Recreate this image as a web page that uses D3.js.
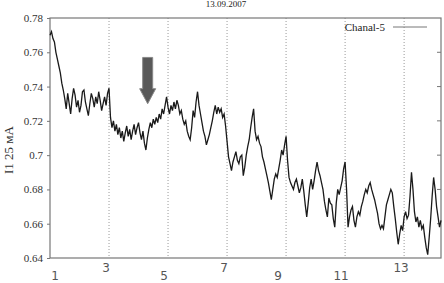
<!DOCTYPE html>
<html lang="ru">
<head>
<meta charset="UTF-8">
<script src="https://d3js.org/d3.v7.min.js"></script>
<style>
  body { margin: 0; background: #fff; }
  svg { font-family: "Liberation Serif", "DejaVu Serif", serif; }
</style>
</head>
<body>
<div id="chart"></div>
<script>
// Chanal-5 current, sampled every 0.05 starting at t = 1
const tStart = 1, tStep = 0.05;
const current = [
  0.770, 0.772, 0.768, 0.766, 0.760, 0.756, 0.752, 0.748, 0.742, 0.738, 0.733, 0.727,
  0.736, 0.730, 0.724, 0.733, 0.739, 0.735, 0.728, 0.732, 0.725, 0.729,
  0.737, 0.738, 0.731, 0.727, 0.723, 0.730, 0.736, 0.733, 0.728, 0.734,
  0.730, 0.737, 0.732, 0.726, 0.730, 0.734, 0.729, 0.736, 0.739,
  0.722, 0.716, 0.720, 0.714, 0.718, 0.712, 0.716, 0.710, 0.714, 0.708,
  0.713, 0.717, 0.711, 0.715, 0.709, 0.714, 0.718, 0.712, 0.716, 0.719,
  0.713, 0.709, 0.714, 0.707, 0.703, 0.710, 0.715, 0.719, 0.716, 0.721, 0.718,
  0.722, 0.719, 0.724, 0.721, 0.727, 0.724, 0.729, 0.734, 0.728, 0.724,
  0.729, 0.726, 0.731, 0.727, 0.732, 0.729, 0.724, 0.726, 0.721, 0.718,
  0.720, 0.714, 0.711, 0.709, 0.716, 0.726, 0.722, 0.731, 0.737, 0.729,
  0.724, 0.719, 0.714, 0.711, 0.706, 0.709, 0.712, 0.716, 0.720, 0.725,
  0.729, 0.724, 0.728, 0.725, 0.727, 0.722, 0.724, 0.717, 0.708, 0.699,
  0.695, 0.691, 0.696, 0.699, 0.702, 0.697, 0.695, 0.699, 0.700, 0.688,
  0.693, 0.700, 0.705, 0.709, 0.716, 0.722, 0.727, 0.714, 0.709, 0.711,
  0.707, 0.705, 0.699, 0.696, 0.692, 0.688, 0.684, 0.679, 0.674, 0.680,
  0.686, 0.689, 0.687, 0.692, 0.697, 0.703, 0.700, 0.706, 0.711,
  0.697, 0.687, 0.684, 0.682, 0.680, 0.684, 0.686, 0.682, 0.678, 0.681,
  0.686, 0.679, 0.671, 0.664, 0.672, 0.681, 0.686, 0.680, 0.685, 0.691,
  0.696, 0.691, 0.688, 0.684, 0.680, 0.673, 0.668, 0.664, 0.675, 0.672,
  0.671, 0.663, 0.658, 0.672, 0.680, 0.677, 0.681, 0.685, 0.692, 0.696,
  0.680, 0.658, 0.664, 0.668, 0.670, 0.662, 0.658, 0.664, 0.667, 0.665,
  0.670, 0.673, 0.677, 0.680, 0.678, 0.682, 0.684, 0.680, 0.677, 0.674,
  0.670, 0.666, 0.660, 0.657, 0.659, 0.657, 0.664, 0.671, 0.674, 0.677,
  0.680, 0.678, 0.670, 0.663, 0.655, 0.648, 0.654, 0.659, 0.656, 0.664,
  0.667, 0.663, 0.665, 0.676, 0.690, 0.680, 0.667, 0.661, 0.664, 0.658,
  0.662, 0.657, 0.659, 0.652, 0.646, 0.642, 0.652, 0.663, 0.676, 0.687,
  0.680, 0.670, 0.664, 0.658, 0.662
];
const xTicks = [1, 3, 5, 7, 9, 11, 13];
const yTicks = [0.64, 0.66, 0.68, 0.70, 0.72, 0.74, 0.76, 0.78];
const gridX = [3, 5, 7, 9, 11, 13];
const title = "13.09.2007";
const seriesName = "Chanal-5";
const yLabel = "I1 25 мА";
// arrow annotation: time, top value, tip value
const arrowAt = { t: 4.31, top: 0.757, tip: 0.730 };

const W = 444, H = 283;
const margin = { top: 18, right: 3, bottom: 25, left: 50 };
const width = W - margin.left - margin.right;
const height = H - margin.top - margin.bottom;

const svg = d3.select("#chart").append("svg")
  .attr("width", W).attr("height", H);
const g = svg.append("g")
  .attr("transform", `translate(${margin.left},${margin.top})`);

const x = d3.scaleLinear().domain([1, 14.25]).range([0, width]);
const y = d3.scaleLinear().domain([0.64, 0.78]).range([height, 0]);

// dotted grid
g.selectAll(".grid").data(gridX).enter().append("line")
  .attr("x1", d => x(d)).attr("x2", d => x(d))
  .attr("y1", 0).attr("y2", height)
  .attr("stroke", "#999").attr("stroke-width", 1)
  .attr("stroke-dasharray", "1,2");

// frame
g.append("rect").attr("width", width).attr("height", height)
  .attr("fill", "none").attr("stroke", "#777").attr("stroke-width", 1.2);

// y axis
const yAxis = g.append("g").call(d3.axisLeft(y).tickValues(yTicks)
  .tickFormat(d => d3.format(".2~f")(d)).tickSize(3).tickPadding(4));
yAxis.select(".domain").remove();
yAxis.selectAll("line").attr("stroke", "#777");
yAxis.selectAll("text").attr("font-size", 11).attr("fill", "#333")
  .attr("font-family", "Liberation Serif, serif");
// mirrored ticks on the right
g.selectAll(".rtick").data(yTicks.slice(1, -1)).enter().append("line")
  .attr("x1", width - 4).attr("x2", width)
  .attr("y1", d => y(d)).attr("y2", d => y(d))
  .attr("stroke", "#777");

// x axis labels, staggered in two rows
const lowRow = new Set([1, 5, 9, 11]);
const xShift = { 1: 5, 3: -3, 5: -4, 7: -3, 9: -8, 11: -4, 13: -3 };
g.selectAll(".xlab").data(xTicks).enter().append("text")
  .attr("x", d => x(d) + xShift[d])
  .attr("y", d => height + (lowRow.has(d) ? 22 : 14))
  .attr("text-anchor", "middle")
  .attr("font-family", "DejaVu Sans, sans-serif")
  .attr("font-size", 12).attr("fill", "#555")
  .text(d => d);

// series line
const line = d3.line()
  .x((d, i) => x(tStart + i * tStep))
  .y(d => y(d));
g.append("path").datum(current)
  .attr("d", line)
  .attr("fill", "none").attr("stroke", "#1a1a1a")
  .attr("stroke-width", 1.3).attr("stroke-linejoin", "miter");

// arrow
const ax = x(arrowAt.t), aTop = y(arrowAt.top), aTip = y(arrowAt.tip);
const headH = 15, shaftW = 5, headW = 8;
g.append("path")
  .attr("d", `M${ax - shaftW},${aTop} L${ax + shaftW},${aTop} L${ax + shaftW},${aTip - headH}
    L${ax + headW},${aTip - headH} L${ax},${aTip} L${ax - headW},${aTip - headH}
    L${ax - shaftW},${aTip - headH} Z`)
  .attr("fill", "#595959").attr("stroke", "#888").attr("stroke-width", 1);

// legend
g.append("text").attr("x", 335).attr("y", 13)
  .attr("text-anchor", "end").attr("font-size", 11).attr("fill", "#222")
  .text(seriesName);
g.append("line").attr("x1", 343).attr("x2", 377)
  .attr("y1", 9).attr("y2", 9)
  .attr("stroke", "#777").attr("stroke-width", 1);

// title
svg.append("text").attr("x", 226).attr("y", 7)
  .attr("text-anchor", "middle").attr("font-size", 9).attr("fill", "#222")
  .text(title);

// y label
svg.append("text")
  .attr("transform", "translate(13,150) rotate(-90)")
  .attr("text-anchor", "middle").attr("font-size", 13).attr("fill", "#333")
  .text(yLabel);
</script>
</body>
</html>
